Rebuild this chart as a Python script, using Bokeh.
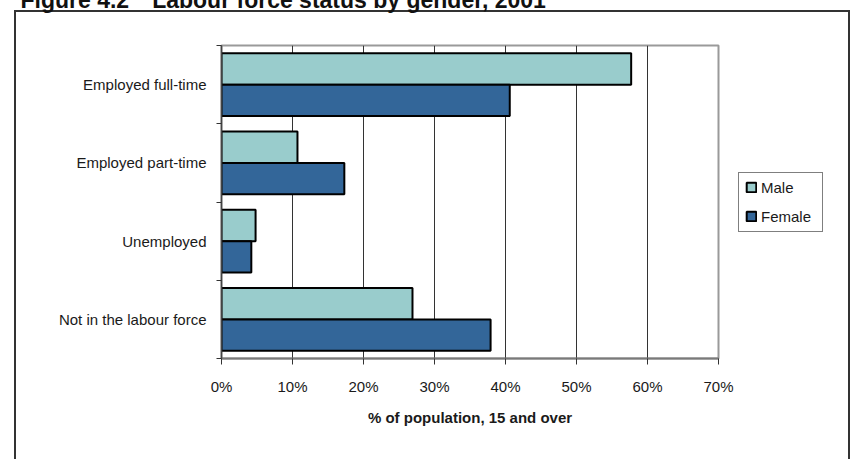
from bokeh.plotting import figure
from bokeh.models import (FixedTicker, PrintfTickFormatter, Legend, LegendItem,
                          Range1d, Title)
from bokeh.embed import file_html
from bokeh.resources import INLINE

# ---- data ----
categories = ["Employed full-time", "Employed part-time", "Unemployed", "Not in the labour force"]
male = [57.7, 10.7, 4.8, 26.9]
female = [40.6, 17.3, 4.2, 37.9]
series_names = ["Male", "Female"]
x_ticks = [0, 10, 20, 30, 40, 50, 60, 70]
title_text = "Figure 4.2\u2003Labour force status by gender, 2001"
x_title = "% of population, 15 and over"

MALE_COLOR = "#99CCCC"
FEMALE_COLOR = "#336699"
FONT = "Liberation Sans"
TEXT = "#1a1a1a"

n = len(categories)
centers = [n - i - 0.5 for i in range(n)]          # first category at top
male_y = [c + 0.2 for c in centers]
female_y = [c - 0.2 for c in centers]

TOP = 100
p = figure(frame_width=497, frame_height=313,
           x_range=Range1d(0, 70), y_range=Range1d(0, n),
           output_backend="svg", toolbar_location=None,
           min_border_left=221, min_border_right=132,
           min_border_top=TOP, min_border_bottom=101)
p.title.visible = False
p.border_fill_color = None
p.background_fill_color = "white"
p.outline_line_color = "#9a9a9a"
p.outline_line_width = 2

# page placement + outer frame lines (drawn as the host's CSS background)
shift = TOP - 45
line = "linear-gradient(#333333,#333333)"
p.styles = {
    "margin-top": f"-{shift}px",
    "background": (f"{line} 14px {10 + shift}px / 2px 100% no-repeat, "
                   f"{line} 14px {10 + shift}px / 835px 2px no-repeat, "
                   f"{line} 848px {10 + shift}px / 2px 100% no-repeat, white"),
}

t = Title(text=title_text, align="left", offset=-201, standoff=66,
          text_font=FONT, text_font_style="bold", text_font_size="23px",
          text_color="#111111")
p.add_layout(t, "above")

r_m = p.hbar(y=male_y, left=0, right=male, height=0.4,
             fill_color=MALE_COLOR, line_color="black", line_width=2)
r_f = p.hbar(y=female_y, left=0, right=female, height=0.4,
             fill_color=FEMALE_COLOR, line_color="black", line_width=2)

# x axis
xa = p.xaxis[0]
xa.ticker = FixedTicker(ticks=x_ticks)
xa.formatter = PrintfTickFormatter(format="%d%%")
xa.major_tick_in = 0
xa.major_tick_out = 6
xa.minor_tick_line_color = None
xa.major_tick_line_color = "#333333"
xa.axis_line_color = "#7a7a7a"
xa.axis_line_width = 2
xa.major_label_text_font = FONT
xa.major_label_text_font_size = "15px"
xa.major_label_text_color = TEXT
xa.major_label_standoff = 13
xa.axis_label = x_title
xa.axis_label_text_font = FONT
xa.axis_label_text_font_size = "15px"
xa.axis_label_text_font_style = "bold"
xa.axis_label_text_color = TEXT
xa.axis_label_standoff = 11

# y axis: labels at category centres, ticks at category boundaries
ya = p.yaxis[0]
ya.ticker = FixedTicker(ticks=centers, minor_ticks=list(range(n + 1)))
ya.major_label_overrides = {c: name for c, name in zip(centers, categories)}
ya.major_tick_in = 0
ya.major_tick_out = 0
ya.minor_tick_in = 0
ya.minor_tick_out = 5
ya.minor_tick_line_color = "#333333"
ya.axis_line_color = "#444444"
ya.axis_line_width = 1.5
ya.major_label_text_font = FONT
ya.major_label_text_font_size = "15px"
ya.major_label_text_color = TEXT
ya.major_label_standoff = 10

p.xgrid.ticker = FixedTicker(ticks=x_ticks)
p.xgrid.grid_line_color = "#333333"
p.xgrid.grid_line_width = 1
p.ygrid.grid_line_color = None

legend = Legend(items=[LegendItem(label=series_names[0], renderers=[r_m]),
                       LegendItem(label=series_names[1], renderers=[r_f])],
                location="center_left", margin=20, padding=6, spacing=12,
                glyph_width=12, glyph_height=12, label_standoff=4,
                label_width=55,
                label_text_font=FONT, label_text_font_size="15px",
                label_text_color=TEXT,
                border_line_color="black", border_line_width=1,
                background_fill_color="white", background_fill_alpha=1)
p.add_layout(legend, "right")

open("out.html", "w").write(file_html(p, INLINE))
